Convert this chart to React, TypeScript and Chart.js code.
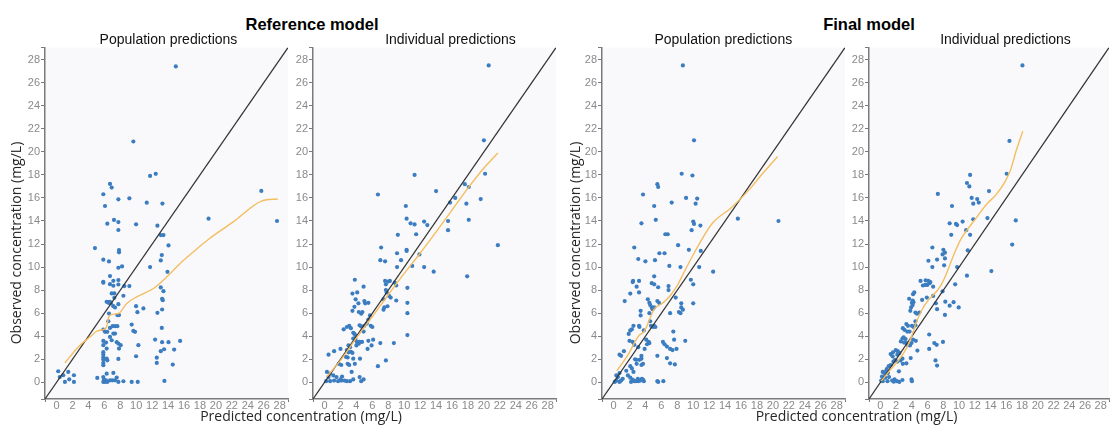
import React, { useEffect, useRef } from 'react';
import { Chart, registerables } from 'chart.js';

Chart.register(...registerables);

// ---------- axis values ----------
const AXIS_MIN = -1.45;
const AXIS_MAX = 29.05;
const TICK_VALUES = [0, 2, 4, 6, 8, 10, 12, 14, 16, 18, 20, 22, 24, 26, 28];
const IDENTITY: [number, number][] = [[AXIS_MIN, AXIS_MIN], [AXIS_MAX, AXIS_MAX]];

// ---------- titles ----------
const GROUP_TITLES = ['Reference model', 'Final model'];
const PANEL_TITLES = ['Population predictions', 'Individual predictions', 'Population predictions', 'Individual predictions'];
const X_TITLE = 'Predicted concentration (mg/L)';
const Y_TITLE = 'Observed concentration (mg/L)';

// ---------- data: [predicted, observed] ----------
const refPopPoints: [number, number][] = [
  [14.97,27.42],[9.64,20.9],[11.74,17.91],[12.45,18.09],[6.71,17.22],[6.92,16.9],[5.87,16.32],[9.14,15.97],[7.76,15.88],[6.08,15.3],
  [11.32,15.59],[13.29,15.51],[25.7,16.61],[7.21,14.09],[6.37,13.77],[7.76,13.91],[9.98,13.71],[7.76,13.22],[19.08,14.2],[27.67,14.0],
  [12.66,13.59],[13.08,12.78],[13.42,12.78],[4.82,11.65],[14.05,11.88],[7.84,11.48],[7.84,11.28],[5.87,10.64],[6.58,10.49],[13.21,11.04],
  [13.08,10.58],[7.76,9.94],[8.22,10.06],[11.74,10.0],[13.92,9.59],[6.71,9.22],[7.13,8.81],[7.76,8.87],[5.87,8.72],[5.87,8.64],
  [6.71,8.52],[7.76,8.49],[7.13,8.38],[8.51,8.35],[9.14,8.35],[13.08,8.23],[6.92,7.71],[7.25,7.71],[13.42,7.91],[8.39,7.51],
  [7.25,7.33],[13.25,7.25],[13.33,7.13],[6.29,6.99],[6.45,6.95],[6.54,6.9],[6.71,6.99],[6.83,6.84],[7.13,6.61],[7.34,6.49],
  [7.76,6.78],[9.98,6.61],[10.9,6.41],[6.58,5.97],[10.15,6.09],[12.66,6.03],[13.25,6.32],[7.63,5.83],[7.84,5.83],[6.5,5.3],
  [9.43,5.01],[7.04,4.87],[7.34,4.87],[7.63,4.87],[6.71,4.72],[13.21,4.72],[9.64,4.46],[9.85,4.38],[5.87,4.58],[6.08,4.38],
  [6.37,4.38],[7.13,4.23],[7.34,4.23],[6.71,3.94],[6.92,3.65],[5.87,3.59],[6.21,3.45],[7.55,3.48],[7.76,3.36],[12.37,3.71],
  [15.51,3.59],[13.25,3.48],[14.05,3.48],[8.05,3.22],[10.27,3.22],[5.87,3.22],[6.29,2.93],[13.5,2.87],[7.84,2.93],[14.76,2.84],
  [13.08,2.7],[5.87,2.61],[5.87,2.41],[5.87,2.17],[5.87,1.97],[5.87,1.68],[5.87,1.48],[6.29,2.06],[6.37,1.91],[7.76,2.03],
  [9.98,2.26],[12.58,2.14],[12.58,1.68],[14.59,1.54],[0.21,0.96],[1.47,0.9],[0.84,0.61],[0.4,0.45],[1.05,0.03],[2.18,0.61],
  [2.18,0.03],[1.59,0.26],[5.11,0.38],[5.87,0.46],[5.95,0.23],[6.08,0.03],[6.21,0.17],[6.37,0.03],[5.87,0.03],[6.29,0.75],
  [6.71,0.17],[7.0,0.17],[7.34,0.17],[7.13,0.81],[7.55,0.41],[7.76,0.03],[8.39,0.09],[9.43,0.03],[10.19,0.03],[13.54,0.12],
];
const refPopLoess: [number, number][] = [
  [1.05,1.68],[2.73,3.07],[4.19,3.94],[5.03,4.43],[5.87,4.58],[6.29,4.81],[6.5,5.54],[6.71,5.83],[7.76,5.97],[8.81,6.84],
  [10.06,7.42],[12.16,8.14],[13.84,9.16],[15.51,10.32],[17.19,11.33],[19.08,12.41],[22.22,13.94],[25.79,15.74],[27.76,15.91],
];

const refIndPoints: [number, number][] = [
  [20.6,27.5],[20.0,21.0],[20.15,18.1],[11.3,18.0],[17.6,17.2],[18.1,16.95],[6.7,16.3],[14.0,16.6],[16.4,16.0],[15.75,15.6],
  [19.6,15.9],[10.2,15.3],[17.8,15.5],[18.1,14.1],[10.3,14.2],[10.8,13.8],[11.3,13.7],[12.5,13.95],[12.9,13.65],[15.5,14.0],
  [15.5,13.2],[11.5,12.85],[9.2,12.8],[7.1,11.7],[21.75,11.9],[10.3,11.5],[10.3,11.4],[9.1,11.2],[11.9,11.1],[7.0,10.6],
  [7.6,10.5],[9.6,10.6],[11.0,10.1],[9.1,10.0],[12.5,10.0],[13.7,9.6],[17.9,9.2],[7.6,8.8],[8.0,8.75],[8.2,8.8],
  [7.7,8.5],[8.8,8.65],[9.0,8.4],[10.4,8.2],[7.7,8.0],[7.8,7.8],[8.1,7.5],[8.3,7.35],[7.4,7.2],[9.0,7.1],
  [7.5,6.5],[7.9,6.6],[7.4,6.3],[10.4,6.9],[10.4,6.0],[10.4,4.1],[3.8,8.9],[4.9,8.3],[3.5,7.7],[4.1,7.8],
  [3.9,7.2],[4.25,6.85],[5.0,7.05],[5.1,6.85],[5.5,6.9],[3.75,6.55],[3.5,6.2],[4.3,6.1],[4.6,5.95],[4.75,6.1],
  [5.7,5.8],[5.5,5.45],[5.3,5.1],[5.0,4.9],[4.4,4.95],[4.6,4.85],[5.8,4.9],[6.0,4.8],[2.4,4.6],[2.8,4.8],
  [3.1,4.9],[3.3,4.7],[3.6,4.3],[3.75,4.2],[3.9,4.05],[4.9,4.4],[3.9,3.65],[4.1,3.45],[4.4,3.5],[4.7,3.5],
  [4.0,3.2],[4.3,3.35],[3.85,3.8],[3.6,3.8],[7.0,3.4],[8.7,3.4],[5.5,3.6],[6.1,3.7],[5.4,2.9],[5.9,3.2],
  [3.0,3.2],[3.2,3.05],[2.8,2.8],[3.0,2.6],[2.0,2.9],[1.2,2.7],[0.5,2.4],[3.3,2.65],[3.5,2.55],[2.7,2.2],
  [2.9,2.15],[3.6,2.05],[4.45,2.05],[1.8,1.6],[2.1,1.5],[2.9,1.6],[3.1,1.5],[3.8,1.6],[6.7,1.4],[7.7,1.9],
  [3.4,0.9],[0.3,0.9],[0.7,0.75],[0.5,0.45],[1.1,0.6],[1.5,0.45],[2.0,0.25],[0.2,0.1],[0.7,0.1],[1.2,0.15],
  [1.7,0.1],[2.1,0.15],[2.5,0.15],[2.8,0.1],[3.2,0.1],[4.4,0.45],[4.6,0.1],[4.9,0.25],[3.6,0.25],[2.2,0.5],
];
const refIndLoess: [number, number][] = [
  [0.3,0.5],[2,1.9],[4,3.85],[6,5.7],[8,7.6],[10,9.45],[12,11.2],[14,13.05],[16,14.95],[18,16.85],[20,18.6],[21.75,19.9],
];

const finPopPoints: [number, number][] = [
  [8.7,27.5],[10.1,21.0],[8.55,18.1],[9.9,17.95],[5.5,17.2],[5.6,16.95],[3.7,16.3],[9.1,16.0],[10.5,15.95],[10.3,15.5],
  [7.3,15.6],[5.1,15.3],[5.3,14.1],[3.5,13.8],[15.6,14.2],[20.7,14.0],[10.0,13.95],[10.1,13.75],[9.8,13.2],[10.9,13.6],
  [6.5,12.85],[6.8,12.85],[8.1,11.9],[2.6,11.7],[9.45,11.5],[10.95,11.4],[5.75,11.2],[6.4,11.2],[3.1,10.7],[5.2,10.6],
  [4.0,10.5],[7.0,10.1],[8.4,10.0],[10.75,10.0],[12.5,9.6],[5.1,9.2],[9.7,8.9],[10.0,8.5],[2.4,8.7],[2.45,8.8],
  [3.2,8.8],[4.8,8.6],[5.1,8.5],[5.6,8.25],[2.9,8.3],[6.9,8.35],[6.9,8.0],[2.1,7.7],[3.2,7.8],[7.8,7.35],
  [1.4,7.05],[4.3,7.2],[4.5,6.9],[5.5,7.05],[5.7,6.9],[8.5,6.85],[8.5,6.5],[10.0,6.85],[4.6,6.7],[4.8,6.5],
  [5.1,6.5],[4.9,6.35],[8.7,6.3],[8.2,6.1],[8.4,6.0],[7.1,6.0],[3.4,6.2],[3.4,5.8],[4.5,6.0],[4.6,5.3],
  [2.5,4.9],[3.2,4.9],[3.25,4.8],[4.7,4.9],[4.95,4.8],[5.1,4.9],[5.25,4.8],[2.3,4.6],[2.1,4.5],[1.9,4.2],
  [3.8,4.5],[7.5,4.4],[7.6,3.7],[9.0,3.6],[2.0,3.6],[2.4,3.5],[2.6,3.25],[4.1,3.7],[4.4,3.5],[4.2,3.3],
  [4.5,3.4],[3.9,2.9],[3.1,3.05],[6.2,3.5],[6.4,3.3],[6.7,3.1],[7.1,2.9],[7.9,2.9],[7.4,2.8],[5.5,2.3],
  [6.7,2.1],[7.1,1.65],[7.7,1.55],[0.75,2.4],[0.95,2.3],[1.3,2.7],[2.7,2.0],[2.85,1.95],[3.25,1.95],[3.5,2.05],
  [2.9,1.6],[3.5,1.5],[3.7,1.6],[3.5,2.3],[2.1,1.4],[2.3,1.2],[2.5,0.9],[1.6,1.0],[0.75,0.8],[0.35,0.6],
  [0.55,0.45],[0.95,0.15],[0.75,0.03],[0.35,0.15],[0.15,0.03],[1.15,0.3],[1.8,0.6],[2.1,0.4],[2.4,0.23],[2.2,0.03],
  [2.6,0.1],[3.05,0.3],[3.1,0.1],[3.35,0.15],[3.55,0.3],[3.8,0.1],[3.7,0.23],[2.8,0.1],[5.5,0.1],[5.6,0.03],[6.25,0.1],
];
const finPopLoess: [number, number][] = [
  [0.4,1.0],[1.2,1.75],[2.0,2.6],[2.6,3.4],[3.25,4.1],[3.7,4.3],[4.1,4.75],[4.6,5.6],[5.1,6.35],[6.0,6.8],
  [6.7,7.2],[7.2,7.6],[8.0,8.4],[8.7,9.35],[10.1,11.2],[12.4,13.8],[14.7,15.1],[17.0,16.7],[18.5,17.95],[20.6,19.6],
];

const finIndPoints: [number, number][] = [
  [18.05,27.5],[16.4,20.95],[16.05,18.1],[11.4,18.0],[11.0,17.3],[11.3,17.0],[7.3,16.35],[13.8,16.6],[11.6,16.0],[11.8,15.5],
  [12.3,15.9],[12.5,15.6],[9.1,15.3],[17.2,14.05],[13.6,14.25],[11.8,14.15],[8.8,13.8],[9.6,13.75],[9.75,13.65],[10.45,13.95],
  [10.9,13.2],[9.0,12.8],[11.4,12.8],[16.75,11.95],[6.6,11.7],[8.0,11.5],[8.2,11.25],[7.9,11.1],[11.1,11.45],[6.1,10.55],
  [7.2,10.65],[8.2,10.75],[6.6,10.0],[8.1,10.15],[9.75,10.0],[14.1,9.65],[11.0,9.25],[5.1,8.8],[5.75,8.85],[6.1,8.8],
  [6.35,8.7],[5.4,8.4],[5.7,8.45],[5.95,8.45],[6.25,8.6],[9.5,8.5],[6.7,8.3],[7.9,7.9],[4.3,7.8],[4.15,7.65],
  [3.65,7.25],[4.1,7.1],[4.2,6.95],[4.0,6.9],[5.3,7.15],[5.9,7.35],[6.7,7.5],[7.05,6.85],[7.2,6.35],[8.25,7.0],
  [9.3,6.95],[8.8,6.65],[9.95,6.5],[3.9,6.5],[4.1,6.7],[3.8,6.2],[4.45,6.05],[4.65,5.95],[4.95,6.05],[8.2,5.85],
  [4.45,5.3],[3.3,5.05],[3.5,4.9],[4.0,4.9],[4.2,4.8],[4.45,4.95],[2.85,4.7],[3.05,4.55],[3.4,4.4],[3.7,4.4],
  [6.2,4.15],[2.95,3.9],[2.8,3.8],[3.2,3.75],[4.15,3.7],[4.5,3.6],[2.6,3.55],[3.0,3.45],[3.3,3.4],[3.45,3.25],
  [3.95,3.4],[3.75,3.2],[6.85,3.4],[7.15,3.25],[7.95,3.5],[6.2,2.9],[4.7,2.75],[1.3,2.45],[1.55,2.25],[1.6,2.6],
  [1.95,2.8],[2.15,2.4],[2.2,2.7],[2.4,2.55],[2.8,2.05],[2.55,1.9],[1.85,1.95],[2.15,1.8],[3.3,1.65],[2.85,1.6],
  [3.85,2.1],[7.0,1.9],[7.2,1.45],[1.65,1.8],[1.3,1.5],[2.35,0.95],[1.05,1.4],[0.8,1.15],[0.3,0.9],[0.5,0.8],
  [0.7,0.95],[0.95,0.8],[0.2,0.5],[0.35,0.4],[0.6,0.4],[0.1,0.15],[0.3,0.1],[1.1,0.45],[0.9,0.1],[1.5,0.15],
  [1.8,0.25],[1.7,0.05],[2.1,0.1],[2.4,0.03],[2.8,0.2],[3.95,0.25],[4.0,0.1],
];
const finIndLoess: [number, number][] = [
  [0.1,0.1],[1.1,0.95],[2.35,1.95],[3.3,2.95],[3.95,3.95],[4.5,5.1],[5.25,6.25],[6.1,7.15],[7.15,7.9],[7.75,8.5],
  [8.4,9.45],[9.4,11.2],[10.25,12.45],[11.1,13.3],[12.1,14.2],[13.55,15.5],[14.6,16.2],[15.65,17.2],[16.5,18.35],[17.3,20.2],[18.1,21.8],
];

// ---------- styling ----------
const AXIS_COLOR = '#7a7a7a';
const TICK_COLOR = '#8a8a8a';
const POINT_COLOR = '#3b7dc0';
const LOESS_COLOR = '#f4bd5f';
const IDENTITY_COLOR = '#333333';
const PLOT_BG = '#f9f9fc';
const TICK_FONT = { family: '"Liberation Sans", Arial, sans-serif', size: 11 };

const toXY = (arr: [number, number][]) => arr.map(([x, y]) => ({ x, y }));
const isBound = (v: number) => v === AXIS_MIN || v === AXIS_MAX;
const allTicks = () => [AXIS_MIN, ...TICK_VALUES, AXIS_MAX].map((v) => ({ value: v }));

const plotBgPlugin = {
  id: 'plotBg',
  beforeDraw(chart: any) {
    const { ctx, chartArea } = chart;
    if (!chartArea) return;
    ctx.save();
    ctx.fillStyle = PLOT_BG;
    ctx.fillRect(chartArea.left, chartArea.top, chartArea.right - chartArea.left, chartArea.bottom - chartArea.top);
    ctx.restore();
  },
};

type PanelProps = {
  left: number;
  top: number;
  width: number;
  height: number;
  yAxisWidth: number;
  padRight: number;
  points: [number, number][];
  loess: [number, number][];
};

function Panel({ left, top, width, height, yAxisWidth, padRight, points, loess }: PanelProps) {
  const ref = useRef<HTMLCanvasElement | null>(null);
  useEffect(() => {
    if (!ref.current) return;
    const tickCb = (v: any) => (TICK_VALUES.includes(Number(v)) ? String(v) : '');
    const chart = new Chart(ref.current, {
      type: 'scatter',
      data: {
        datasets: [
          {
            data: toXY(loess),
            showLine: true,
            borderColor: LOESS_COLOR,
            borderWidth: 1.4,
            pointRadius: 0,
            cubicInterpolationMode: 'monotone',
            fill: false,
          } as any,
          {
            data: toXY(IDENTITY),
            showLine: true,
            borderColor: IDENTITY_COLOR,
            borderWidth: 1.25,
            pointRadius: 0,
            fill: false,
          } as any,
          {
            data: toXY(points),
            backgroundColor: POINT_COLOR,
            borderWidth: 0,
            pointRadius: 2.1,
          } as any,
        ],
      },
      options: {
        responsive: false,
        maintainAspectRatio: false,
        animation: false,
        devicePixelRatio: 1,
        layout: { padding: { left: 0, right: padRight, top: 7, bottom: 0 } },
        plugins: { legend: { display: false }, tooltip: { enabled: false }, title: { display: false } },
        events: [],
        scales: {
          x: {
            type: 'linear',
            min: AXIS_MIN,
            max: AXIS_MAX,
            afterBuildTicks: (s: any) => { s.ticks = allTicks(); },
            afterFit: (s: any) => { s.height = 26; },
            grid: {
              drawOnChartArea: false,
              drawTicks: true,
              tickLength: 3,
              tickColor: (c: any) => (c.tick && isBound(c.tick.value) ? AXIS_COLOR : 'rgba(0,0,0,0)'),
            },
            border: { color: AXIS_COLOR, width: 1.5 },
            ticks: { autoSkip: false, maxRotation: 0, minRotation: 0, padding: -3, color: TICK_COLOR, font: TICK_FONT, callback: tickCb },
          },
          y: {
            type: 'linear',
            min: AXIS_MIN,
            max: AXIS_MAX,
            afterBuildTicks: (s: any) => { s.ticks = allTicks(); },
            afterFit: (s: any) => { s.width = yAxisWidth; },
            grid: { drawOnChartArea: false, drawTicks: true, tickLength: 4, tickColor: AXIS_COLOR },
            border: { color: AXIS_COLOR, width: 1.5 },
            ticks: { autoSkip: false, padding: 1, color: TICK_COLOR, font: TICK_FONT, callback: tickCb },
          },
        },
      } as any,
      plugins: [plotBgPlugin],
    });
    return () => chart.destroy();
  }, []);
  return (
    <div style={{ position: 'absolute', left, top, width, height }}>
      <canvas ref={ref} width={width} height={height} style={{ display: 'block', width, height }} />
    </div>
  );
}

type TextProps = {
  cx: number;
  top: number;
  size: number;
  bold?: boolean;
  family: string;
  color: string;
  rotate?: boolean;
  children: React.ReactNode;
};

function Label({ cx, top, size, bold, family, color, rotate, children }: TextProps) {
  const w = 400;
  return (
    <div
      style={{
        position: 'absolute',
        left: cx - w / 2,
        top,
        width: w,
        height: size,
        lineHeight: '1',
        fontSize: size,
        fontFamily: family,
        fontWeight: bold ? 'bold' : 'normal',
        color,
        textAlign: 'center',
        whiteSpace: 'nowrap',
        transform: rotate ? 'rotate(-90deg)' : undefined,
      }}
    >
      {children}
    </div>
  );
}

const ARIAL = '"Liberation Sans", Arial, sans-serif';
const AXIS_FONT = '"Open Sans", "Liberation Sans", sans-serif';

export default function App() {
  return (
    <div style={{ position: 'absolute', left: 0, top: 0, width: 1113, height: 425, background: '#ffffff', overflow: 'hidden' }}>
      <Panel left={20} top={40} width={275} height={385} yAxisWidth={25} padRight={7} points={refPopPoints} loess={refPopLoess} />
      <Panel left={290} top={40} width={273} height={385} yAxisWidth={23} padRight={7} points={refIndPoints} loess={refIndLoess} />
      <Panel left={578} top={40} width={274} height={385} yAxisWidth={24} padRight={7} points={finPopPoints} loess={finPopLoess} />
      <Panel left={845} top={40} width={268} height={385} yAxisWidth={24} padRight={2} points={finIndPoints} loess={finIndLoess} />

      <Label cx={312} top={16} size={16.5} bold family={ARIAL} color="#000">{GROUP_TITLES[0]}</Label>
      <Label cx={869} top={16} size={16.5} bold family={ARIAL} color="#000">{GROUP_TITLES[1]}</Label>

      <Label cx={168.5} top={32} size={14} family={ARIAL} color="#111">{PANEL_TITLES[0]}</Label>
      <Label cx={450.5} top={32} size={14} family={ARIAL} color="#111">{PANEL_TITLES[1]}</Label>
      <Label cx={723.3} top={32} size={14} family={ARIAL} color="#111">{PANEL_TITLES[2]}</Label>
      <Label cx={1005.5} top={32} size={14} family={ARIAL} color="#111">{PANEL_TITLES[3]}</Label>

      <Label cx={301} top={408.5} size={14} family={AXIS_FONT} color="#262626">{X_TITLE}</Label>
      <Label cx={856.5} top={408.5} size={14} family={AXIS_FONT} color="#262626">{X_TITLE}</Label>

      <Label cx={15.6} top={243 - 7} size={14} family={AXIS_FONT} color="#262626" rotate>{Y_TITLE}</Label>
      <Label cx={574.6} top={243 - 7} size={14} family={AXIS_FONT} color="#262626" rotate>{Y_TITLE}</Label>
    </div>
  );
}
